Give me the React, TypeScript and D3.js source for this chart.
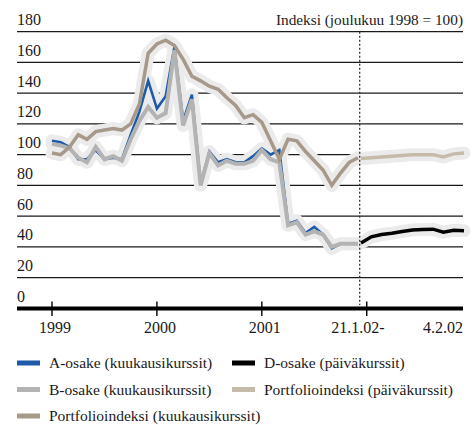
import React from "react";
import * as d3 from "d3";

// monthly index 0 = 1999, 12 = 2000, 24 = 2001, 36 = 2002
const aMonthly = [
  109, 108, 105, 97, 97, 103, 97, 98, 97, 113, 128, 148,
  130, 138, 170, 122, 139, 81, 102, 95, 97, 95, 95, 99,
  104, 100, 103, 55, 57, 49, 53, 48, 39, 42, 42, 42,
];
const bMonthly = [
  107, 106, 104, 98, 95, 105, 97, 99, 96, 110, 122, 131,
  124, 127, 168, 119, 136, 80, 101, 93, 96, 94, 94, 96,
  103, 97, 95, 54, 56, 48, 50, 48, 40, 42, 42, 42,
];
const portfolioMonthly = [
  101, 100, 105, 113, 110, 115, 116, 117, 116, 120, 133, 166,
  172, 174.5, 171, 162, 151, 148, 144.5, 142.5, 137, 132, 124, 126,
  121, 109, 97, 110, 109, 102, 96, 90, 80, 88, 95, 98,
];
// daily 21.1.02 - 4.2.02
const dDaily = [42.5, 46.5, 48, 48.8, 50, 51, 51.2, 51.5, 49.5, 50.8, 50.5];
const portfolioDaily = [97.5, 98, 98.5, 99, 99.5, 100, 100, 100, 98.5, 100.5, 101];

const yTicks = [0, 20, 40, 60, 80, 100, 120, 140, 160, 180];
const xTicks = [
  { m: 0, label: "1999" },
  { m: 12, label: "2000" },
  { m: 24, label: "2001" },
  { m: 36, label: "" },
];

const legendItems = [
  { label: "A-osake (kuukausikurssit)", color: "#1f5aa8", col: 0, row: 0 },
  { label: "D-osake (päiväkurssit)", color: "#000000", col: 1, row: 0 },
  { label: "B-osake (kuukausikurssit)", color: "#b3b3b3", col: 0, row: 1 },
  { label: "Portfolioindeksi (päiväkurssit)", color: "#c6bba9", col: 1, row: 1 },
  { label: "Portfolioindeksi (kuukausikurssit)", color: "#a6998a", col: 0, row: 2 },
];

const FONT = "Liberation Serif";

export default function App() {
  const width = 472;
  const height = 425;
  const left = 17;
  const right = 463;

  const y = d3.scaleLinear().domain([0, 180]).range([308.3, 31.7]);
  const xm = d3.scaleLinear().domain([0, 35]).range([52, 358]);
  const xd = d3.scaleLinear().domain([0, dDaily.length - 1]).range([361, 464]);

  const monthLine = d3
    .line<number>()
    .x((_, i) => xm(i))
    .y((d) => y(d));
  const dayLine = d3
    .line<number>()
    .x((_, i) => xd(i))
    .y((d) => y(d));

  const splitX = 359.7;

  const series = [
    { path: monthLine(aMonthly), color: "#1f5aa8", w: 2.6 },
    { path: monthLine(bMonthly), color: "#b3b3b3", w: 4 },
    { path: monthLine(portfolioMonthly), color: "#a6998a", w: 3.5 },
    { path: dayLine(portfolioDaily), color: "#c6bba9", w: 3.5 },
    { path: dayLine(dDaily), color: "#000000", w: 3.5 },
  ];

  return (
    <div style={{ position: "absolute", left: 0, top: 0 }}>
      <svg width={width} height={height} style={{ display: "block" }} fontFamily={FONT}>
        <rect x={0} y={0} width={width} height={height} fill="#ffffff" />

        {/* grid + y labels */}
        {yTicks.map((t) => (
          <g key={t}>
            {t > 0 && (
              <line x1={left} x2={right} y1={y(t)} y2={y(t)} stroke="#1a1a1a" strokeWidth={1.2} />
            )}
            <text x={left} y={y(t) - 6.5} fontSize={16} fill="#1a1a1a" fontFamily={FONT}>
              {t}
            </text>
          </g>
        ))}

        <text x={right} y={25} textAnchor="end" fontSize={15.3} fill="#1a1a1a" fontFamily={FONT}>
          Indeksi (joulukuu 1998 = 100)
        </text>

        {/* halos */}
        {series.map((s, i) => (
          <path
            key={"h" + i}
            d={s.path || ""}
            fill="none"
            stroke="#ebebeb"
            strokeWidth={13}
            strokeLinejoin="round"
            strokeLinecap="round"
          />
        ))}

        {/* split line */}
        <line
          x1={splitX}
          x2={splitX}
          y1={y(180)}
          y2={305}
          stroke="#333"
          strokeWidth={1.3}
          strokeDasharray="2 2"
        />

        {series.map((s, i) => (
          <path
            key={"s" + i}
            d={s.path || ""}
            fill="none"
            stroke={s.color}
            strokeWidth={s.w}
            strokeLinejoin="miter"
          />
        ))}

        {/* x axis */}
        <line x1={left} x2={right} y1={308.5} y2={308.5} stroke="#000" strokeWidth={4} />
        {xTicks.map((t) => (
          <g key={t.m}>
            <line x1={xm(t.m)} x2={xm(t.m)} y1={301.5} y2={316} stroke="#000" strokeWidth={1.4} />
            {t.label && (
              <text x={xm(t.m) + 3} y={333} textAnchor="middle" fontSize={16} fill="#1a1a1a" fontFamily={FONT}>
                {t.label}
              </text>
            )}
          </g>
        ))}
        <text x={358} y={333} textAnchor="middle" fontSize={16} fill="#1a1a1a" fontFamily={FONT}>
          21.1.02-
        </text>
        <text x={right} y={333} textAnchor="end" fontSize={16} fill="#1a1a1a" fontFamily={FONT}>
          4.2.02
        </text>

        {/* legend */}
        {legendItems.map((d) => {
          const lx = d.col === 0 ? 17 : 232;
          const ly = 363 + d.row * 26.5;
          return (
            <g key={d.label}>
              <rect x={lx} y={ly - 2.5} width={23} height={5} fill={d.color} />
              <text x={lx + 32} y={ly + 5} fontSize={15.5} fill="#1a1a1a" fontFamily={FONT}>
                {d.label}
              </text>
            </g>
          );
        })}
      </svg>
    </div>
  );
}
